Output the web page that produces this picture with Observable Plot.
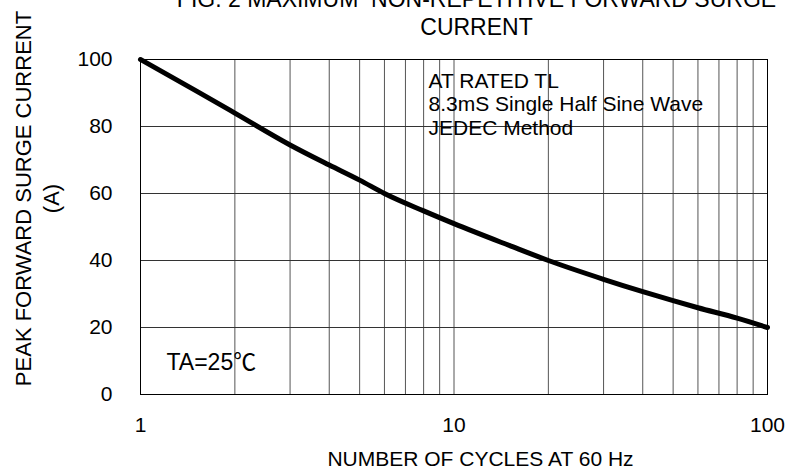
<!DOCTYPE html>
<html>
<head>
<meta charset="utf-8">
<script src="https://cdn.jsdelivr.net/npm/d3@7"></script>
<script src="https://cdn.jsdelivr.net/npm/@observablehq/plot@0.6"></script>
<style>
  html, body { margin: 0; padding: 0; background: #fff; }
  #chart svg { display: block; }
</style>
</head>
<body>
<div id="chart"></div>
<script>
// ---- data ----
const cycles  = [1, 1.5, 2, 3, 4, 5, 6, 8, 10, 15, 20, 30, 40, 50, 60, 80, 100];
const current = [100, 90.7, 84, 74.5, 68.5, 64, 60, 54.8, 51, 44.5, 40, 34.4, 30.7, 28, 25.9, 22.8, 20];
const xTicks = [1, 10, 100];
const yTicks = [0, 20, 40, 60, 80, 100];
const xGrid = [2, 3, 4, 5, 6, 7, 8, 9, 10, 20, 30, 40, 50, 60, 70, 80, 90];
const yGrid = [20, 40, 60, 80];
const titleLines = ["FIG. 2 MAXIMUM  NON-REPETITIVE FORWARD SURGE", "CURRENT"];
const yLabelLines = ["PEAK FORWARD SURGE CURRENT", "(A)"];
const xLabel = "NUMBER OF CYCLES AT 60 Hz";
const noteLines = ["AT RATED TL", "8.3mS Single Half Sine Wave", "JEDEC Method"];
const tempNote = "TA=25\u2103";

const data = cycles.map((c, i) => ({cycles: c, current: current[i]}));
const FONT = "'Liberation Sans', Arial, 'Noto Sans CJK SC', sans-serif";

const marks = [
  Plot.ruleX(xGrid, {stroke: "#555", strokeWidth: 1}),
  Plot.ruleY(yGrid, {stroke: "#333", strokeWidth: 1}),
  // note text (top right)
  ...noteLines.map((t, i) => Plot.text([t], {
    text: d => d, frameAnchor: "top-left", textAnchor: "start", lineAnchor: "middle",
    dx: 288, dy: 21.3 + i * 23.5, fontSize: 21, fill: "#000", ariaLabel: "note"
  })),
  // temperature note (bottom left)
  Plot.text([tempNote], {
    text: d => d, frameAnchor: "bottom-left", textAnchor: "start", lineAnchor: "middle",
    dx: 26, dy: -31.4, fontSize: 23, fill: "#000", ariaLabel: "temp"
  }),
  Plot.line(data, {x: "cycles", y: "current", curve: "monotone-x", stroke: "#000",
    strokeWidth: 5, strokeLinecap: "round", strokeLinejoin: "round"}),
  Plot.frame({stroke: "#000", strokeWidth: 1}),
  Plot.axisX({ticks: xTicks, tickSize: 0, tickPadding: 23, tickFormat: d => String(d),
    label: null, fontSize: 21}),
  Plot.axisY({ticks: yTicks, tickSize: 0, tickPadding: 28, tickFormat: d => String(d),
    label: null, fontSize: 21}),
  // title
  ...titleLines.map((t, i) => Plot.text([t], {
    text: d => d, frameAnchor: "top", textAnchor: "middle", lineAnchor: "middle",
    dx: 22.5, dy: -59.4 + i * 28, fontSize: 23, fill: "#000"
  })),
  // y axis label (two rotated lines)
  ...yLabelLines.map((t, i) => Plot.text([t], {
    text: d => d, frameAnchor: "left", textAnchor: "middle", lineAnchor: "middle",
    rotate: -90, dx: i === 0 ? -117 : -89, dy: -28.5, fontSize: 22, fill: "#000"
  })),
  // x axis label
  Plot.text([xLabel], {
    text: d => d, frameAnchor: "bottom", textAnchor: "middle", lineAnchor: "middle",
    dx: 26.5, dy: 64.5, fontSize: 21, fill: "#000"
  })
];

const chart = Plot.plot({
  width: 787,
  height: 471,
  marginLeft: 140,
  marginRight: 20,
  marginTop: 59,
  marginBottom: 77,
  style: {fontFamily: FONT, fontSize: "21px", color: "#000", background: "#fff", overflow: "visible"},
  x: {type: "log", domain: [1, 100]},
  y: {domain: [0, 100]},
  marks
});

document.getElementById("chart").appendChild(chart);

// white boxes behind the annotation texts, sized from the texts themselves
function boxBehind(label, pad) {
  const groups = chart.querySelectorAll(`g[aria-label="${label}"]`);
  if (!groups.length) return;
  let x0 = Infinity, y0 = Infinity, x1 = -Infinity, y1 = -Infinity;
  groups.forEach(g => {
    const b = g.getBBox();
    const t = g.transform && g.transform.baseVal.consolidate();
    const ox = t ? t.matrix.e : 0, oy = t ? t.matrix.f : 0;
    x0 = Math.min(x0, b.x + ox); y0 = Math.min(y0, b.y + oy);
    x1 = Math.max(x1, b.x + b.width + ox); y1 = Math.max(y1, b.y + b.height + oy);
  });
  const r = document.createElementNS("http://www.w3.org/2000/svg", "rect");
  r.setAttribute("x", x0 - pad[0]);
  r.setAttribute("y", y0 - pad[1]);
  r.setAttribute("width", (x1 - x0) + pad[0] + pad[2]);
  r.setAttribute("height", (y1 - y0) + pad[1] + pad[3]);
  r.setAttribute("fill", "#fff");
  groups[0].parentNode.insertBefore(r, groups[0]);
}
boxBehind("note", [13, 9, 50, 13]);
boxBehind("temp", [14, 9, 12, 8]);
</script>
</body>
</html>
